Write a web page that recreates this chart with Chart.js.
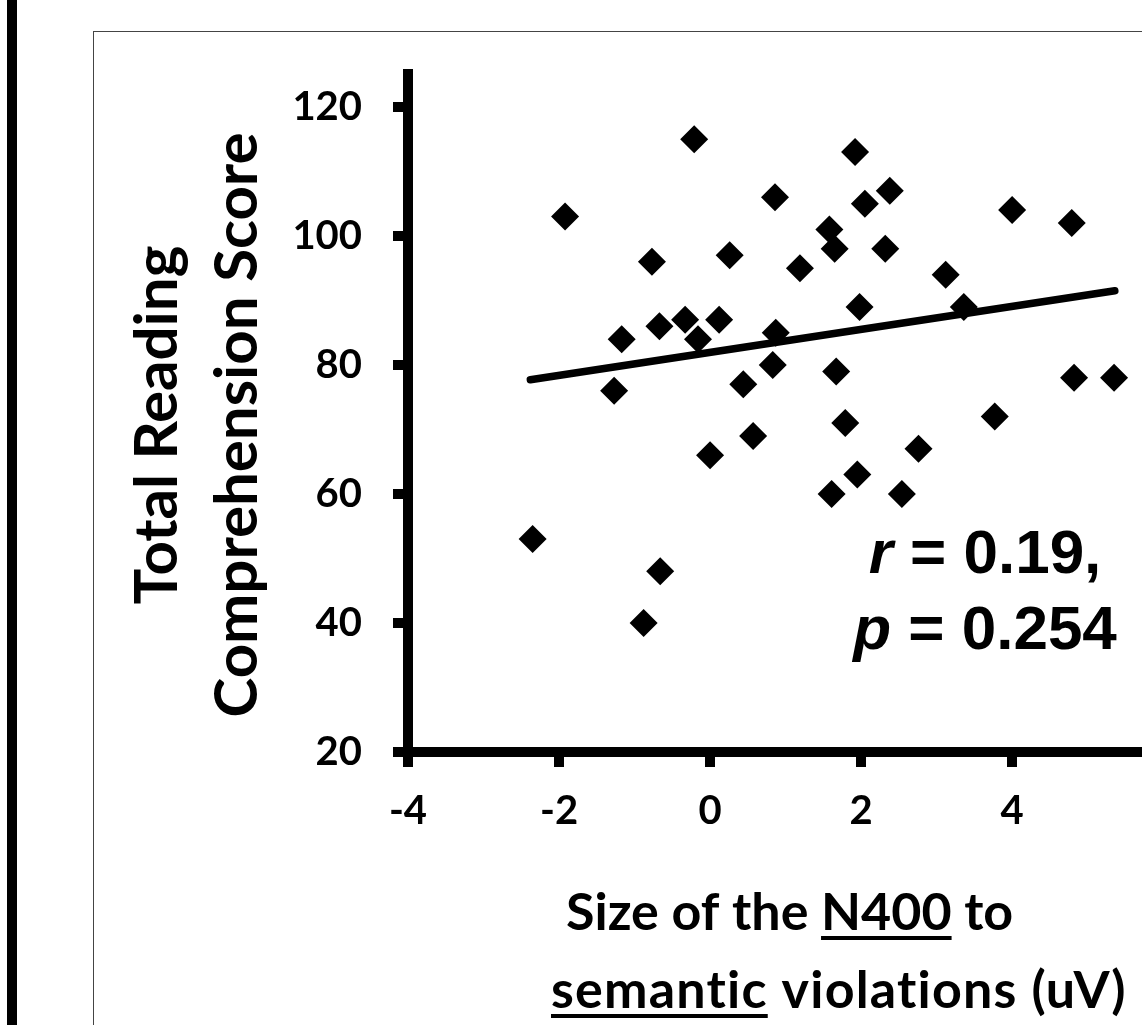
<!DOCTYPE html>
<html lang="en">
<head>
  <meta charset="UTF-8" />
  <title>N400 vs Reading Comprehension</title>
  <script src="https://cdn.jsdelivr.net/npm/chart.js"></script>
  <style>
    html, body { margin: 0; padding: 0; background: #fff; overflow: hidden; }
    body { width: 1142px; height: 1025px; position: relative; }
    #leftBar { position: absolute; left: 7px; top: 0; width: 10px; height: 1025px; background: #000; }
    #frame { position: absolute; left: 93px; top: 31px; width: 2000px; height: 2000px; border: 1px solid #444; }
    #chart { position: absolute; left: 0; top: 0; }
  </style>
</head>
<body>
  <div id="leftBar"></div>
  <div id="frame"></div>
  <canvas id="chart" width="1142" height="1025"></canvas>

  <script>
    // N400 size (uV) and total reading comprehension score, one entry per participant
    const n400Size = [
      -0.21, -1.92, -0.77, 0.26, -1.17, -0.67, -0.33, 0.12, -0.16, -1.27,
      0.44, 0.00, 0.57, -2.35, -0.66, -0.88, 1.92, 0.86, 2.38, 2.05,
      4.00, 4.79, 1.58, 1.65, 2.32, 1.19, 3.12, 1.98, 3.36, 0.87,
      0.83, 1.67, 4.82, 5.35, 1.79, 3.77, 2.76, 1.95, 1.61, 2.54
    ];
    const readingScore = [
      115, 103, 96, 97, 84, 86, 87, 87, 84, 76,
      77, 66, 69, 53, 48, 40, 113, 106, 107, 105,
      104, 102, 101, 98, 98, 95, 94, 89, 89, 85,
      80, 79, 78, 78, 71, 72, 67, 63, 60, 60
    ];
    // linear trendline end points as drawn in the figure
    const trendX = [-2.38, 5.36];
    const trendY = [77.7, 91.5];

    const xTicks = [-4, -2, 0, 2, 4];
    const yTicks = [20, 40, 60, 80, 100, 120];

    const tickFont = { family: 'Lato', weight: 'bold', size: 40 };

    const points = n400Size.map((x, i) => ({ x: x, y: readingScore[i] }));
    const trend = trendX.map((x, i) => ({ x: x, y: trendY[i] }));

    // axis titles and the r / p annotation (need underline + mixed italic)
    const textPlugin = {
      id: 'textPlugin',
      afterDraw(chart) {
        const ctx = chart.ctx;
        ctx.save();
        ctx.fillStyle = '#000';

        // y title, two rotated lines
        ctx.font = 'bold 60px Lato';
        ctx.textAlign = 'center';
        ctx.textBaseline = 'middle';
        [['Total Reading', 158], ['Comprehension Score', 238]].forEach(([txt, x]) => {
          ctx.save();
          ctx.translate(x, 425);
          ctx.rotate(-Math.PI / 2);
          ctx.fillText(txt, 0, 0);
          ctx.restore();
        });

        // x title with underlined words
        ctx.font = 'bold 52px Lato';
        ctx.textAlign = 'left';
        ctx.textBaseline = 'alphabetic';
        const drawParts = (parts, x, y) => {
          parts.forEach(([txt, underline]) => {
            const w = ctx.measureText(txt).width;
            ctx.fillText(txt, x, y);
            if (underline) ctx.fillRect(x, y + 6, w, 4);
            x += w;
          });
        };
        drawParts([['Size of the ', false], ['N400', true], [' to', false]], 566, 930);
        ctx.letterSpacing = '1.2px';
        drawParts([['semantic', true], [' violations (uV)', false]], 551, 1008);
        ctx.letterSpacing = '0px';

        // correlation annotation
        const stat = (letter, rest, cx, y) => {
          ctx.font = 'italic bold 62px "Liberation Sans"';
          const w1 = ctx.measureText(letter).width;
          ctx.font = 'bold 62px "Liberation Sans"';
          const w2 = ctx.measureText(rest).width;
          const x = cx - (w1 + w2) / 2;
          ctx.font = 'italic bold 62px "Liberation Sans"';
          ctx.fillText(letter, x, y);
          ctx.font = 'bold 62px "Liberation Sans"';
          ctx.fillText(rest, x + w1, y);
        };
        stat('r', ' = 0.19,', 985, 573);
        stat('p', ' = 0.254', 985, 649);

        ctx.restore();
      }
    };

    function draw() {
      new Chart(document.getElementById('chart'), {
        type: 'scatter',
        data: {
          datasets: [
            {
              label: 'Participants',
              data: points,
              pointStyle: 'rectRot',
              pointRadius: 14,
              pointHoverRadius: 14,
              backgroundColor: '#000',
              borderWidth: 0,
              order: 1
            },
            {
              type: 'line',
              label: 'Linear trend',
              data: trend,
              borderColor: '#000',
              borderWidth: 7.5,
              borderCapStyle: 'round',
              pointRadius: 0,
              fill: false,
              order: 0
            }
          ]
        },
        options: {
          responsive: false,
          animation: false,
          // no auto padding for the marker size, the x axis runs to the right edge
          layout: { autoPadding: false, padding: { left: 0, top: 74, right: 0, bottom: 0 } },
          plugins: {
            legend: { display: false },
            tooltip: { enabled: false }
          },
          scales: {
            x: {
              type: 'linear',
              min: -4,
              max: 5.72,
              afterBuildTicks: s => { s.ticks = xTicks.map(v => ({ value: v })); },
              afterFit: s => { s.height = 273; s.paddingLeft = 0; s.paddingRight = 0; },
              border: { display: true, color: '#000', width: 10 },
              grid: { drawOnChartArea: false, drawTicks: true, tickLength: 15, color: '#000', lineWidth: 10 },
              ticks: { color: '#000', font: tickFont, padding: 20, maxRotation: 0 }
            },
            y: {
              type: 'linear',
              min: 20,
              max: 125.1,
              afterBuildTicks: s => { s.ticks = yTicks.map(v => ({ value: v })); },
              afterFit: s => { s.width = 408; s.paddingTop = 0; s.paddingBottom = 0; },
              border: { display: true, color: '#000', width: 10 },
              grid: { drawOnChartArea: false, drawTicks: true, tickLength: 15, color: '#000', lineWidth: 10 },
              ticks: { color: '#000', font: tickFont, padding: 31 }
            }
          }
        },
        plugins: [textPlugin]
      });
    }

    Promise.all([
      document.fonts.load('bold 40px Lato'),
      document.fonts.load('bold 60px "Liberation Sans"'),
      document.fonts.load('italic bold 60px "Liberation Sans"')
    ]).then(draw, draw);
  </script>
</body>
</html>
